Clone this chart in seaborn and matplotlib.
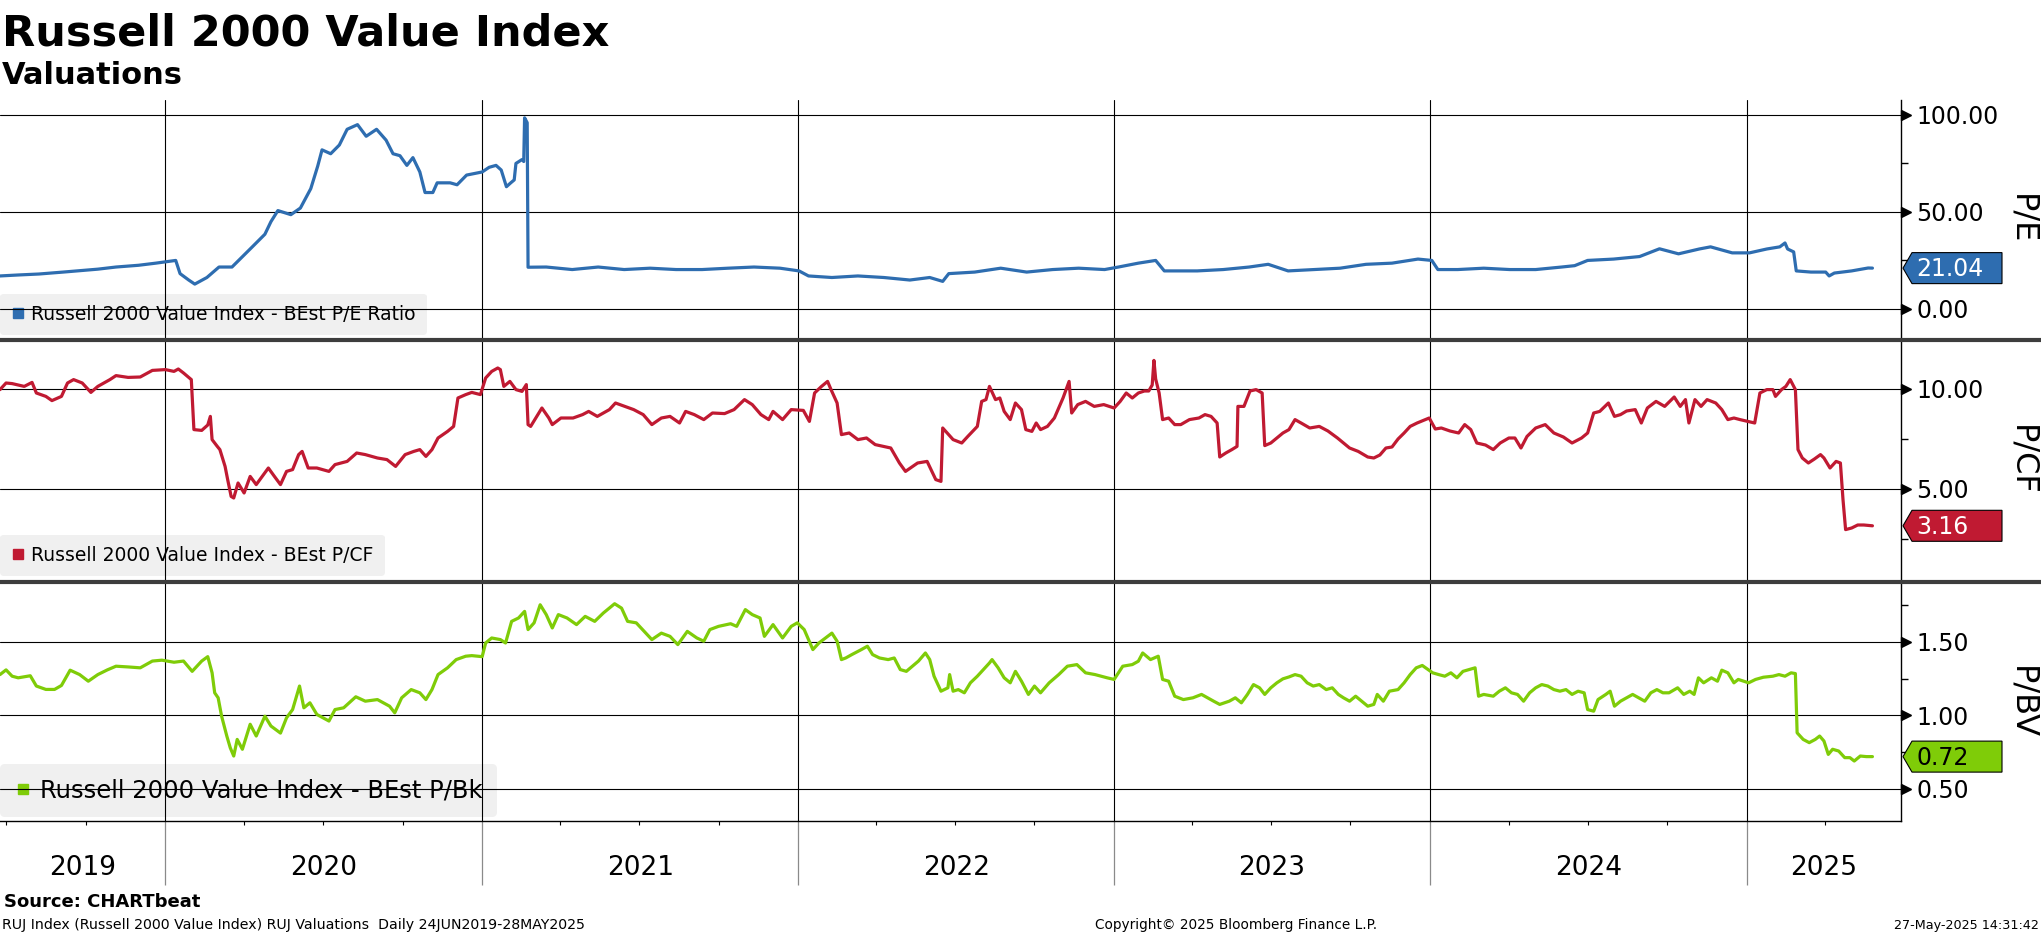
import pandas as pd
import matplotlib
matplotlib.use('Agg')
import matplotlib.pyplot as plt
import matplotlib.dates as mdates
import matplotlib.ticker as ticker
import matplotlib.transforms as mtransforms
from matplotlib.lines import Line2D
from matplotlib.patches import Polygon
import seaborn as sns

# ---------------- data ----------------
pe_dates = [
    '2019-06-24', '2019-07-15', '2019-08-08', '2019-09-05', '2019-09-21', '2019-10-15', '2019-11-05',
    '2019-12-01', '2019-12-21', '2020-01-13', '2020-01-18', '2020-01-28', '2020-02-04', '2020-02-18',
    '2020-03-03', '2020-03-18', '2020-04-10', '2020-04-25', '2020-05-02', '2020-05-10', '2020-05-25',
    '2020-06-05', '2020-06-17', '2020-06-25', '2020-06-30', '2020-07-10', '2020-07-20', '2020-07-29',
    '2020-08-10', '2020-08-20', '2020-09-01', '2020-09-12', '2020-09-20', '2020-09-28', '2020-10-06',
    '2020-10-13', '2020-10-21', '2020-10-27', '2020-11-05', '2020-11-10', '2020-11-25', '2020-12-03',
    '2020-12-14', '2021-01-01', '2021-01-09', '2021-01-17', '2021-01-23', '2021-01-29', '2021-02-03',
    '2021-02-07', '2021-02-09', '2021-02-16', '2021-02-18', '2021-02-19', '2021-02-22', '2021-02-23',
    '2021-03-16', '2021-04-15', '2021-05-15', '2021-06-14', '2021-07-14', '2021-08-13', '2021-09-12',
    '2021-10-12', '2021-11-11', '2021-12-11', '2022-01-02', '2022-01-13', '2022-02-09', '2022-03-11',
    '2022-04-10', '2022-05-10', '2022-06-02', '2022-06-17', '2022-06-24', '2022-07-24', '2022-08-23',
    '2022-09-22', '2022-10-22', '2022-11-21', '2022-12-21', '2023-01-06', '2023-01-29', '2023-02-18',
    '2023-02-28', '2023-04-07', '2023-05-07', '2023-06-06', '2023-06-28', '2023-07-21', '2023-08-20',
    '2023-09-19', '2023-10-19', '2023-11-18', '2023-12-18', '2024-01-03', '2024-01-10', '2024-02-02',
    '2024-03-03', '2024-04-02', '2024-05-02', '2024-06-01', '2024-06-16', '2024-07-01', '2024-07-31',
    '2024-08-30', '2024-09-22', '2024-10-14', '2024-11-07', '2024-11-20', '2024-12-15', '2025-01-04',
    '2025-01-24', '2025-02-08', '2025-02-14', '2025-02-17', '2025-02-24', '2025-02-27', '2025-03-16',
    '2025-04-02', '2025-04-06', '2025-04-12', '2025-05-02', '2025-05-21', '2025-05-26']
pe_values = [
    17.0, 17.5, 18.0, 19.0, 19.6, 20.5, 21.6,
    22.5, 23.6, 25.0, 18.2, 14.9, 12.8, 16.2,
    21.6, 21.6, 31.8, 38.5, 45.0, 50.7, 48.6,
    52.0, 62.0, 73.6, 82.0, 80.0, 84.5, 92.6,
    95.0, 89.0, 92.6, 87.0, 80.0, 79.0, 74.0,
    78.0, 70.6, 60.0, 60.0, 65.0, 65.0, 64.0,
    69.0, 70.6, 73.0, 74.0, 71.6, 63.0, 65.0,
    66.5, 75.0, 77.0, 76.0, 98.5, 96.0, 21.5,
    21.6, 20.3, 21.6, 20.3, 21.0, 20.3, 20.3,
    21.0, 21.6, 21.0, 19.6, 17.0, 16.2, 17.0,
    16.2, 14.9, 16.2, 14.2, 18.2, 19.0, 21.0,
    19.0, 20.3, 21.0, 20.3, 21.6, 23.6, 25.0,
    19.6, 19.6, 20.3, 21.6, 23.0, 19.6, 20.3,
    21.0, 23.0, 23.6, 25.7, 25.0, 20.3, 20.3,
    21.0, 20.3, 20.3, 21.6, 22.3, 25.0, 25.7,
    27.0, 31.0, 28.4, 30.9, 32.0, 28.9, 28.9,
    30.9, 32.0, 34.0, 30.9, 29.4, 19.6, 19.0,
    19.0, 17.0, 18.5, 19.6, 21.1, 21.04]

pcf_dates = [
    '2019-06-24', '2019-07-01', '2019-07-08', '2019-07-22', '2019-07-31', '2019-08-05', '2019-08-16',
    '2019-08-23', '2019-09-03', '2019-09-10', '2019-09-17', '2019-09-27', '2019-10-07', '2019-10-15',
    '2019-10-29', '2019-11-05', '2019-11-19', '2019-12-03', '2019-12-17', '2020-01-01', '2020-01-11',
    '2020-01-16', '2020-01-22', '2020-01-31', '2020-02-03', '2020-02-12', '2020-02-19', '2020-02-22',
    '2020-02-24', '2020-03-01', '2020-03-04', '2020-03-10', '2020-03-13', '2020-03-17', '2020-03-20',
    '2020-03-25', '2020-04-01', '2020-04-08', '2020-04-15', '2020-04-29', '2020-05-06', '2020-05-13',
    '2020-05-20', '2020-05-27', '2020-06-03', '2020-06-07', '2020-06-14', '2020-06-24', '2020-07-08',
    '2020-07-15', '2020-07-29', '2020-08-09', '2020-08-19', '2020-09-02', '2020-09-13', '2020-09-23',
    '2020-10-04', '2020-10-14', '2020-10-21', '2020-10-28', '2020-11-04', '2020-11-11', '2020-11-22',
    '2020-11-29', '2020-12-04', '2020-12-13', '2020-12-20', '2020-12-30', '2021-01-05', '2021-01-12',
    '2021-01-19', '2021-01-22', '2021-01-26', '2021-02-02', '2021-02-09', '2021-02-16', '2021-02-21',
    '2021-02-23', '2021-02-26', '2021-03-05', '2021-03-11', '2021-03-19', '2021-03-23', '2021-04-02',
    '2021-04-16', '2021-04-27', '2021-05-04', '2021-05-14', '2021-05-28', '2021-06-04', '2021-06-15',
    '2021-06-25', '2021-07-06', '2021-07-16', '2021-07-27', '2021-08-06', '2021-08-17', '2021-08-24',
    '2021-09-03', '2021-09-14', '2021-09-24', '2021-10-08', '2021-10-19', '2021-10-31', '2021-11-09',
    '2021-11-19', '2021-11-28', '2021-12-03', '2021-12-14', '2021-12-24', '2022-01-07', '2022-01-14',
    '2022-01-20', '2022-01-28', '2022-02-04', '2022-02-08', '2022-02-15', '2022-02-20', '2022-03-01',
    '2022-03-11', '2022-03-21', '2022-03-31', '2022-04-18', '2022-04-28', '2022-05-05', '2022-05-19',
    '2022-05-30', '2022-06-09', '2022-06-15', '2022-06-17', '2022-06-29', '2022-07-09', '2022-07-16',
    '2022-07-27', '2022-08-01', '2022-08-06', '2022-08-10', '2022-08-17', '2022-08-22', '2022-08-27',
    '2022-09-03', '2022-09-09', '2022-09-16', '2022-09-21', '2022-09-28', '2022-10-03', '2022-10-08',
    '2022-10-16', '2022-10-24', '2022-11-03', '2022-11-10', '2022-11-13', '2022-11-20', '2022-11-29',
    '2022-12-09', '2022-12-20', '2023-01-01', '2023-01-08', '2023-01-15', '2023-01-22', '2023-01-29',
    '2023-02-05', '2023-02-10', '2023-02-14', '2023-02-16', '2023-02-18', '2023-02-22', '2023-02-26',
    '2023-03-05', '2023-03-12', '2023-03-19', '2023-03-29', '2023-04-09', '2023-04-16', '2023-04-23',
    '2023-04-30', '2023-05-03', '2023-05-10', '2023-05-17', '2023-05-23', '2023-05-24', '2023-05-31',
    '2023-06-07', '2023-06-14', '2023-06-21', '2023-06-24', '2023-07-01', '2023-07-08', '2023-07-15',
    '2023-07-22', '2023-07-29', '2023-08-05', '2023-08-15', '2023-08-26', '2023-09-05', '2023-09-16',
    '2023-09-23', '2023-09-30', '2023-10-10', '2023-10-21', '2023-10-28', '2023-11-04', '2023-11-11',
    '2023-11-18', '2023-11-25', '2023-12-02', '2023-12-09', '2023-12-17', '2023-12-31', '2024-01-07',
    '2024-01-14', '2024-01-24', '2024-02-03', '2024-02-10', '2024-02-17', '2024-02-24', '2024-03-05',
    '2024-03-14', '2024-03-22', '2024-04-01', '2024-04-08', '2024-04-15', '2024-04-22', '2024-05-02',
    '2024-05-13', '2024-05-23', '2024-06-03', '2024-06-13', '2024-06-24', '2024-07-01', '2024-07-08',
    '2024-07-15', '2024-07-25', '2024-08-01', '2024-08-08', '2024-08-15', '2024-08-25', '2024-09-01',
    '2024-09-08', '2024-09-18', '2024-09-28', '2024-10-09', '2024-10-16', '2024-10-22', '2024-10-26',
    '2024-11-02', '2024-11-09', '2024-11-16', '2024-11-26', '2024-12-03', '2024-12-10', '2024-12-17',
    '2024-12-24', '2025-01-10', '2025-01-16', '2025-01-24', '2025-01-31', '2025-02-03', '2025-02-10',
    '2025-02-15', '2025-02-20', '2025-02-24', '2025-02-26', '2025-03-01', '2025-03-06', '2025-03-13',
    '2025-03-20', '2025-03-27', '2025-03-31', '2025-04-07', '2025-04-14', '2025-04-19', '2025-04-22',
    '2025-04-25', '2025-05-02', '2025-05-09', '2025-05-16', '2025-05-26']
pcf_values = [
    9.97, 10.30, 10.27, 10.13, 10.33, 9.80, 9.63,
    9.42, 9.63, 10.30, 10.47, 10.30, 9.83, 10.13,
    10.47, 10.67, 10.58, 10.60, 10.93, 10.97, 10.88,
    11.00, 10.80, 10.47, 7.97, 7.93, 8.20, 8.63,
    7.47, 7.13, 6.97, 6.13, 5.47, 4.63, 4.55,
    5.30, 4.80, 5.63, 5.22, 6.05, 5.63, 5.22,
    5.88, 5.97, 6.72, 6.88, 6.05, 6.05, 5.88,
    6.22, 6.38, 6.80, 6.72, 6.55, 6.47, 6.13,
    6.72, 6.88, 6.97, 6.63, 6.97, 7.55, 7.88,
    8.13, 9.55, 9.72, 9.83, 9.72, 10.55, 10.88,
    11.05, 10.97, 10.13, 10.38, 9.97, 9.88, 10.22,
    8.22, 8.13, 8.63, 9.05, 8.55, 8.22, 8.55,
    8.55, 8.72, 8.88, 8.63, 8.97, 9.30, 9.13,
    8.97, 8.72, 8.22, 8.55, 8.63, 8.30, 8.88,
    8.72, 8.47, 8.80, 8.77, 8.97, 9.47, 9.22,
    8.72, 8.47, 8.88, 8.47, 8.97, 8.93, 8.38,
    9.80, 10.13, 10.38, 9.97, 9.30, 7.72, 7.80,
    7.47, 7.55, 7.22, 7.05, 6.30, 5.88, 6.30,
    6.38, 5.47, 5.38, 8.05, 7.47, 7.30, 7.63,
    8.13, 9.38, 9.47, 10.13, 9.47, 9.55, 8.88,
    8.47, 9.30, 8.97, 7.97, 7.88, 8.30, 7.97,
    8.13, 8.55, 9.55, 10.38, 8.80, 9.22, 9.38,
    9.13, 9.22, 9.05, 9.38, 9.80, 9.55, 9.80,
    9.90, 9.90, 10.20, 11.43, 10.50, 9.80, 8.47,
    8.55, 8.22, 8.22, 8.47, 8.55, 8.72, 8.63,
    8.30, 6.60, 6.80, 6.97, 7.13, 9.13, 9.13,
    9.90, 9.97, 9.80, 7.17, 7.30, 7.55, 7.80,
    7.97, 8.47, 8.30, 8.05, 8.13, 7.90, 7.55,
    7.30, 7.05, 6.88, 6.60, 6.55, 6.70, 7.05,
    7.10, 7.50, 7.80, 8.13, 8.30, 8.55, 8.00,
    8.05, 7.90, 7.80, 8.22, 7.97, 7.30, 7.20,
    6.97, 7.30, 7.55, 7.55, 7.05, 7.63, 8.05,
    8.22, 7.80, 7.60, 7.30, 7.55, 7.80, 8.80,
    8.88, 9.30, 8.63, 8.72, 8.90, 8.97, 8.30,
    9.05, 9.38, 9.13, 9.60, 9.13, 9.47, 8.30,
    9.47, 9.13, 9.47, 9.30, 8.97, 8.47, 8.55,
    8.47, 8.30, 9.80, 9.97, 9.97, 9.63, 9.97,
    10.13, 10.47, 10.13, 9.97, 6.97, 6.55, 6.30,
    6.50, 6.72, 6.55, 6.05, 6.38, 6.30, 4.47,
    2.97, 3.05, 3.20, 3.20, 3.16]

pb_dates = [
    '2019-06-24', '2019-07-01', '2019-07-08', '2019-07-15', '2019-07-29', '2019-08-05', '2019-08-16',
    '2019-08-26', '2019-09-03', '2019-09-13', '2019-09-24', '2019-10-04', '2019-10-15', '2019-10-26',
    '2019-11-05', '2019-11-19', '2019-12-03', '2019-12-17', '2019-12-28', '2020-01-11', '2020-01-22',
    '2020-02-01', '2020-02-12', '2020-02-19', '2020-02-24', '2020-02-27', '2020-03-02', '2020-03-06',
    '2020-03-12', '2020-03-16', '2020-03-20', '2020-03-24', '2020-03-30', '2020-04-08', '2020-04-15',
    '2020-04-25', '2020-05-02', '2020-05-13', '2020-05-20', '2020-05-27', '2020-06-04', '2020-06-09',
    '2020-06-16', '2020-06-24', '2020-07-08', '2020-07-15', '2020-07-25', '2020-08-08', '2020-08-19',
    '2020-09-02', '2020-09-16', '2020-09-22', '2020-09-30', '2020-10-11', '2020-10-21', '2020-10-28',
    '2020-11-04', '2020-11-11', '2020-11-22', '2020-12-02', '2020-12-13', '2020-12-20', '2021-01-01',
    '2021-01-05', '2021-01-12', '2021-01-22', '2021-01-28', '2021-02-04', '2021-02-12', '2021-02-19',
    '2021-02-23', '2021-03-02', '2021-03-09', '2021-03-16', '2021-03-23', '2021-03-30', '2021-04-09',
    '2021-04-20', '2021-04-30', '2021-05-11', '2021-05-21', '2021-06-03', '2021-06-11', '2021-06-18',
    '2021-06-28', '2021-07-09', '2021-07-16', '2021-07-27', '2021-08-06', '2021-08-15', '2021-08-26',
    '2021-09-06', '2021-09-14', '2021-09-21', '2021-10-01', '2021-10-15', '2021-10-22', '2021-11-01',
    '2021-11-09', '2021-11-18', '2021-11-23', '2021-12-03', '2021-12-14', '2021-12-24', '2021-12-31',
    '2022-01-08', '2022-01-13', '2022-01-18', '2022-01-25', '2022-02-04', '2022-02-09', '2022-02-15',
    '2022-02-20', '2022-02-25', '2022-03-04', '2022-03-15', '2022-03-22', '2022-03-28', '2022-04-05',
    '2022-04-15', '2022-04-22', '2022-04-29', '2022-05-06', '2022-05-13', '2022-05-20', '2022-05-28',
    '2022-06-02', '2022-06-07', '2022-06-15', '2022-06-23', '2022-06-25', '2022-06-29', '2022-07-05',
    '2022-07-12', '2022-07-19', '2022-07-27', '2022-08-03', '2022-08-10', '2022-08-13', '2022-08-20',
    '2022-08-27', '2022-09-03', '2022-09-09', '2022-09-16', '2022-09-24', '2022-10-01', '2022-10-08',
    '2022-10-18', '2022-10-29', '2022-11-08', '2022-11-19', '2022-11-29', '2022-12-10', '2022-12-24',
    '2023-01-01', '2023-01-11', '2023-01-22', '2023-01-29', '2023-02-03', '2023-02-12', '2023-02-21',
    '2023-02-26', '2023-03-05', '2023-03-12', '2023-03-22', '2023-04-02', '2023-04-12', '2023-04-19',
    '2023-04-26', '2023-05-03', '2023-05-14', '2023-05-21', '2023-05-28', '2023-06-04', '2023-06-11',
    '2023-06-18', '2023-06-24', '2023-07-01', '2023-07-08', '2023-07-15', '2023-07-22', '2023-07-29',
    '2023-08-05', '2023-08-12', '2023-08-19', '2023-08-26', '2023-09-03', '2023-09-10', '2023-09-17',
    '2023-09-23', '2023-09-30', '2023-10-07', '2023-10-14', '2023-10-21', '2023-10-28', '2023-11-01',
    '2023-11-08', '2023-11-15', '2023-11-25', '2023-12-02', '2023-12-09', '2023-12-16', '2023-12-23',
    '2024-01-04', '2024-01-11', '2024-01-18', '2024-01-25', '2024-02-01', '2024-02-08', '2024-02-15',
    '2024-02-22', '2024-02-26', '2024-03-03', '2024-03-14', '2024-03-21', '2024-03-28', '2024-04-04',
    '2024-04-11', '2024-04-18', '2024-04-25', '2024-05-02', '2024-05-09', '2024-05-16', '2024-05-23',
    '2024-05-30', '2024-06-06', '2024-06-13', '2024-06-20', '2024-06-27', '2024-07-01', '2024-07-08',
    '2024-07-13', '2024-07-22', '2024-07-27', '2024-08-01', '2024-08-08', '2024-08-15', '2024-08-22',
    '2024-08-29', '2024-09-05', '2024-09-12', '2024-09-19', '2024-09-26', '2024-10-03', '2024-10-13',
    '2024-10-20', '2024-10-27', '2024-11-01', '2024-11-06', '2024-11-12', '2024-11-21', '2024-11-28',
    '2024-12-03', '2024-12-10', '2024-12-17', '2024-12-22', '2025-01-03', '2025-01-11', '2025-01-20',
    '2025-01-31', '2025-02-07', '2025-02-14', '2025-02-21', '2025-02-26', '2025-02-28', '2025-03-07',
    '2025-03-14', '2025-03-21', '2025-03-26', '2025-03-31', '2025-04-05', '2025-04-10', '2025-04-17',
    '2025-04-24', '2025-04-30', '2025-05-05', '2025-05-12', '2025-05-19', '2025-05-26']
pb_values = [
    1.278, 1.310, 1.267, 1.256, 1.270, 1.200, 1.177,
    1.177, 1.204, 1.308, 1.278, 1.233, 1.278, 1.310,
    1.335, 1.330, 1.324, 1.370, 1.376, 1.362, 1.370,
    1.300, 1.370, 1.400, 1.290, 1.154, 1.120, 0.995,
    0.860, 0.780, 0.724, 0.837, 0.770, 0.940, 0.860,
    0.995, 0.928, 0.880, 0.984, 1.040, 1.200, 1.052,
    1.086, 1.007, 0.962, 1.040, 1.052, 1.127, 1.097,
    1.108, 1.063, 1.018, 1.120, 1.176, 1.154, 1.108,
    1.176, 1.278, 1.324, 1.380, 1.403, 1.407, 1.400,
    1.493, 1.527, 1.516, 1.493, 1.640, 1.663, 1.708,
    1.584, 1.630, 1.753, 1.686, 1.595, 1.686, 1.663,
    1.618, 1.674, 1.640, 1.697, 1.760, 1.730, 1.640,
    1.630, 1.560, 1.516, 1.560, 1.538, 1.482, 1.572,
    1.527, 1.505, 1.584, 1.606, 1.624, 1.606, 1.720,
    1.686, 1.663, 1.538, 1.618, 1.527, 1.606, 1.630,
    1.584, 1.516, 1.448, 1.493, 1.538, 1.560, 1.505,
    1.380, 1.391, 1.414, 1.448, 1.471, 1.414, 1.391,
    1.380, 1.391, 1.312, 1.300, 1.335, 1.370, 1.425,
    1.380, 1.267, 1.165, 1.188, 1.278, 1.165, 1.176,
    1.154, 1.222, 1.267, 1.312, 1.357, 1.380, 1.324,
    1.256, 1.222, 1.300, 1.233, 1.143, 1.200, 1.154,
    1.222, 1.278, 1.335, 1.346, 1.290, 1.278, 1.256,
    1.245, 1.335, 1.346, 1.369, 1.425, 1.380, 1.403,
    1.245, 1.233, 1.131, 1.108, 1.120, 1.143, 1.120,
    1.097, 1.075, 1.097, 1.120, 1.086, 1.143, 1.210,
    1.188, 1.143, 1.188, 1.222, 1.249, 1.262, 1.278,
    1.267, 1.222, 1.200, 1.210, 1.176, 1.188, 1.143,
    1.120, 1.097, 1.131, 1.097, 1.063, 1.075, 1.143,
    1.097, 1.165, 1.176, 1.222, 1.278, 1.324, 1.340,
    1.290, 1.278, 1.267, 1.290, 1.256, 1.300, 1.312,
    1.324, 1.131, 1.143, 1.131, 1.165, 1.188, 1.154,
    1.143, 1.097, 1.154, 1.188, 1.210, 1.200, 1.176,
    1.165, 1.176, 1.143, 1.165, 1.154, 1.040, 1.029,
    1.108, 1.143, 1.165, 1.063, 1.097, 1.120, 1.143,
    1.120, 1.097, 1.154, 1.176, 1.154, 1.154, 1.188,
    1.143, 1.165, 1.143, 1.256, 1.222, 1.256, 1.233,
    1.308, 1.290, 1.222, 1.245, 1.222, 1.245, 1.260,
    1.267, 1.278, 1.267, 1.290, 1.285, 0.882, 0.837,
    0.815, 0.837, 0.860, 0.826, 0.735, 0.770, 0.758,
    0.713, 0.713, 0.690, 0.724, 0.720, 0.720]

series_labels = ['Russell 2000 Value Index - BEst P/E Ratio',
                 'Russell 2000 Value Index - BEst P/CF',
                 'Russell 2000 Value Index - BEst P/Bk']
axis_names = ['P/E', 'P/CF', 'P/BV']
year_labels = ['2019', '2020', '2021', '2022', '2023', '2024', '2025']
pe_ticks, pe_minor = [0, 50, 100], [25, 75]
pcf_ticks, pcf_minor = [5, 10], [2.5, 7.5]
pb_ticks, pb_minor = [0.5, 1.0, 1.5], [0.75, 1.25, 1.75]

# ---------------- layout ----------------
W, H = 2041, 936
PLOT_RIGHT = 1901
X_START, X_END = pd.Timestamp('2019-06-24'), pd.Timestamp('2025-06-28')

sns.set_style('white')
plt.rcParams['font.family'] = ['DejaVu Sans', 'Noto Sans']
plt.rcParams['text.color'] = 'black'
plt.rcParams['axes.labelcolor'] = 'black'
plt.rcParams['xtick.color'] = 'black'
plt.rcParams['ytick.color'] = 'black'

fig = plt.figure(figsize=(W / 100, H / 100), dpi=100)

panels = [
    dict(dates=pe_dates, values=pe_values, color='#2e6db0', txt='white', top=100, bot=339,
         ylim=(-15.5, 107.7), ticks=pe_ticks, minor=pe_minor, leg_size=13.5),
    dict(dates=pcf_dates, values=pcf_values, color='#c01a32', txt='white', top=341, bot=580,
         ylim=(0.45, 12.4), ticks=pcf_ticks, minor=pcf_minor, leg_size=13.5),
    dict(dates=pb_dates, values=pb_values, color='#7fcc08', txt='black', top=583, bot=821,
         ylim=(0.282, 1.901), ticks=pb_ticks, minor=pb_minor, leg_size=17.5),
]

axes = []
for i, p in enumerate(panels):
    ax = fig.add_axes([0, 1 - p['bot'] / H, PLOT_RIGHT / W, (p['bot'] - p['top']) / H])
    axes.append(ax)
    df = pd.DataFrame({'date': pd.to_datetime(p['dates']), 'value': p['values']})
    sns.lineplot(data=df, x='date', y='value', ax=ax, color=p['color'], linewidth=2.3,
                 legend=False, zorder=3)

    ax.set_xlim(X_START, X_END)
    ax.set_ylim(*p['ylim'])
    ax.set_xlabel('')
    ax.set_ylabel('')

    # y axis on the right with arrow ticks
    ax.yaxis.tick_right()
    ax.set_yticks(p['ticks'])
    ax.set_yticks(p['minor'], minor=True)
    ax.yaxis.set_major_formatter(ticker.FormatStrFormatter('%.2f'))
    ax.tick_params(axis='y', which='major', length=0, pad=11, labelsize=17, labelcolor='black')
    ax.tick_params(axis='y', which='minor', right=True, length=5, width=1, direction='out',
                   color='black')
    arrow_tr = mtransforms.offset_copy(ax.get_yaxis_transform(), fig=fig, x=5, y=0, units='dots')
    ax.plot([1] * len(p['ticks']), p['ticks'], marker='>', linestyle='', color='black',
            markersize=6.5, transform=arrow_tr, clip_on=False)

    # x axis: year gridlines, quarterly minor ticks
    ax.xaxis.set_major_locator(mdates.YearLocator())
    ax.xaxis.set_minor_locator(mdates.MonthLocator(bymonth=[1, 4, 7, 10]))
    ax.grid(True, which='major', color='black', linewidth=0.8)
    ax.set_axisbelow(True)

    for s in ['top', 'left']:
        ax.spines[s].set_visible(False)
    ax.spines['right'].set_color('black')
    ax.spines['right'].set_linewidth(1)
    if i < 2:
        ax.spines['bottom'].set_visible(False)
        ax.tick_params(axis='x', which='both', bottom=False, length=0, labelbottom=False)
    else:
        ax.spines['bottom'].set_color('black')
        ax.spines['bottom'].set_linewidth(1)
        ax.tick_params(axis='x', which='major', bottom=True, length=46, width=0.9,
                       color='#8a8a8a', direction='out', labelbottom=False)
        ax.tick_params(axis='x', which='minor', bottom=True, length=3, width=0.8,
                       color='black', direction='out')
        for lab in year_labels:
            a = max(pd.Timestamp(lab + '-01-01'), X_START)
            b = min(pd.Timestamp(str(int(lab) + 1) + '-01-01'), X_END)
            ax.text(a + (b - a) / 2, -0.197, lab, transform=ax.get_xaxis_transform(),
                    ha='center', va='center', fontsize=19)

    # legend box in the lower left
    ax_h = p['bot'] - p['top']
    handle = Line2D([], [], marker='s', linestyle='', color=p['color'], markersize=7)
    leg = ax.legend([handle], [series_labels[i]], loc='lower left',
                    bbox_to_anchor=(0, 4 / ax_h), borderaxespad=0, frameon=True, fancybox=True,
                    facecolor='#f0f0f0', edgecolor='none', framealpha=1,
                    fontsize=p['leg_size'], handlelength=0.7, handletextpad=0.35, borderpad=0.6)
    leg.set_zorder(0.3)

    # rotated axis name on the far right
    ax.text(2022 / PLOT_RIGHT, 0.5, axis_names[i], transform=ax.transAxes,
            rotation=270, ha='center', va='center', fontsize=23)

    # last value badge
    last = p['values'][-1]
    xs, ys = ax.get_yaxis_transform().transform((1, last))
    hh = 15.5
    badge = Polygon([(xs + 2, ys), (xs + 11, ys + hh), (xs + 101, ys + hh),
                     (xs + 101, ys - hh), (xs + 11, ys - hh)], closed=True,
                    facecolor=p['color'], edgecolor='black', linewidth=0.8,
                    transform=mtransforms.IdentityTransform())
    fig.add_artist(badge)
    fig.text(xs + 15, ys - 1, f'{last:.2f}', transform=mtransforms.IdentityTransform(),
             ha='left', va='center', fontsize=17, color=p['txt'])

# thick separators between panels
for ypx in (340, 581.5):
    fig.add_artist(Line2D([0, 1], [1 - ypx / H] * 2, transform=fig.transFigure,
                          color='#3d3d3d', linewidth=3))

# titles and footer
fig.text(0.001, 1 - 45.5 / H, 'Russell 2000 Value Index', fontsize=31, fontweight='bold',
         ha='left', va='baseline')
fig.text(0.001, 1 - 84.5 / H, 'Valuations', fontsize=22, fontweight='bold',
         ha='left', va='baseline')
fig.text(4 / W, 1 - 907 / H, 'Source: CHARTbeat', fontsize=13, fontweight='bold',
         ha='left', va='baseline')
fig.text(2 / W, 1 - 929 / H,
         'RUJ Index (Russell 2000 Value Index) RUJ Valuations  Daily 24JUN2019-28MAY2025',
         fontsize=10.2, ha='left', va='baseline')
fig.text(1236 / W, 1 - 929 / H, 'Copyright\u00a9 2025 Bloomberg Finance L.P.', fontsize=9.8,
         ha='center', va='baseline')
fig.text(1 - 2 / W, 1 - 929 / H, '27-May-2025 14:31:42', fontsize=9.2,
         ha='right', va='baseline')

fig.savefig('out.png', dpi=100)
